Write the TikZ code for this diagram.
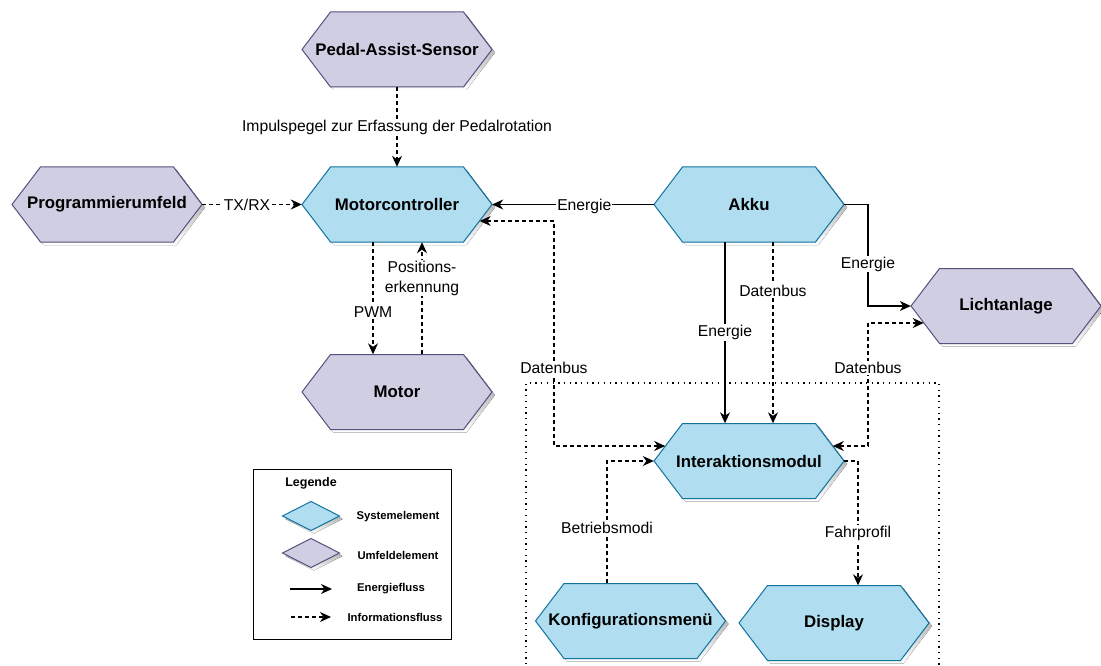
\documentclass[tikz,border=0pt]{standalone}
\usepackage{fontspec}
\setmainfont{Liberation Sans}
\usetikzlibrary{arrows.meta,calc}

\definecolor{sysfill}{HTML}{B1DDF0}
\definecolor{sysline}{HTML}{10739E}
\definecolor{envfill}{HTML}{D0CEE2}
\definecolor{envline}{HTML}{56517E}
\definecolor{shade}{HTML}{C2C2C2}

\tikzset{
  sys/.style={fill=sysfill, draw=sysline, line width=1pt, line join=miter},
  env/.style={fill=envfill, draw=envline, line width=1pt, line join=miter},
  hexlabel/.style={rectangle, minimum width=190pt, minimum height=75pt, inner sep=0pt,
    font=\fontsize{16.8}{20}\selectfont\bfseries},
  flow/.style={line width=1.1pt, -{Stealth[length=11pt, width=10pt, inset=3.5pt]}},
  info/.style={flow, dash pattern=on 4pt off 3pt},
  both/.style={info, {Stealth[length=11pt, width=10pt, inset=3.5pt]}-{Stealth[length=11pt, width=10pt, inset=3.5pt]}},
  lbl/.style={fill=white, inner sep=1pt, align=center, font=\fontsize{15.7}{20}\selectfont},
  groupframe/.style={line width=1.3pt, dash pattern=on 1.3pt off 4.4pt},
  legtext/.style={font=\fontsize{11.3}{13}\selectfont\bfseries},
}

% hexagonal element with drop shadow: style, name, x, y, text
\newcommand\hexnode[5]{%
  \begin{scope}[shift={(#3,#4)}]
    \fill[shade] (-92,3) -- (-63.5,-34.5) -- (69.5,-34.5) -- (98,3) -- (69.5,40.5) -- (-63.5,40.5) -- cycle;
    \draw[#1] (-95,0) -- (-66.5,-37.5) -- (66.5,-37.5) -- (95,0) -- (66.5,37.5) -- (-66.5,37.5) -- cycle;
    \node[hexlabel] (#2) at (0,0) {#5};
  \end{scope}
}
% small diamond with drop shadow for the legend: style, x, y
\newcommand\legdiamond[3]{%
  \begin{scope}[shift={(#2,#3)}]
    \fill[shade] (-25.5,3) -- (3,-11.5) -- (31.5,3) -- (3,17.5) -- cycle;
    \draw[#1] (-28.5,0) -- (0,-14.5) -- (28.5,0) -- (0,14.5) -- cycle;
  \end{scope}
}

\begin{document}
\begin{tikzpicture}[x=1pt, y=-1pt]
\useasboundingbox (0,0) rectangle (1101,666);

% dotted frame around the user-side components
\draw[groupframe] (526,670) -- (526,383) -- (939,383) -- (939,670);

% elements
\hexnode{env}{pas}{397}{49.5}{Pedal-Assist-Sensor}
\hexnode{env}{prog}{107}{204.5}{Programmierumfeld}
\hexnode{sys}{mc}{397}{204.5}{Motorcontroller}
\hexnode{env}{motor}{397}{392}{Motor}
\hexnode{sys}{akku}{749}{204.5}{Akku}
\hexnode{env}{licht}{1006}{306}{Lichtanlage}
\hexnode{sys}{im}{749}{461}{Interaktionsmodul}
\hexnode{sys}{konf}{630.5}{621}{Konfigurationsmenü}
\hexnode{sys}{disp}{834}{623}{Display}

% docking points on the slanted sides
\coordinate (mcIn)  at ($(mc.east)+(-12.5,16.5)$);
\coordinate (imInL) at ($(im.west)+(11.4,-15)$);
\coordinate (imInR) at ($(im.east)+(-11.4,-15)$);
\coordinate (liIn)  at ($(licht.west)+(12.9,17)$);

% connectors
\draw[info] (pas.south) -- node[lbl]{Impulspegel zur Erfassung der Pedalrotation} (mc.north);
\draw[info] (prog.east) -- node[lbl, pos=0.45]{TX/RX} (mc.west);
\draw[flow] (akku.west) -- node[lbl, pos=0.43, yshift=-1.5pt]{Energie} (mc.east);
\draw[both] (mcIn) -| (554,368) node[lbl]{Datenbus} |- (imInL);

\draw[info] ($(mc.south)+(-24,0)$) -- node[lbl, pos=0.62]{PWM} ($(motor.north)+(-24,0)$);
\draw[info] ($(motor.north)+(25,0)$) -- node[lbl, pos=0.68]{Positions-\\erkennung} ($(mc.south)+(25,0)$);

\draw[flow] (akku.east) -| (868,264) node[lbl]{Energie} |- (licht.west);
\draw[both] (imInR) -| (868,368) node[lbl]{Datenbus} |- (liIn);

\draw[flow] ($(akku.south)+(-24,0)$) -- node[lbl, pos=0.5]{Energie} ($(im.north)+(-24,0)$);
\draw[info] ($(akku.south)+(24,0)$) -- node[lbl, pos=0.27]{Datenbus} ($(im.north)+(24,0)$);

\draw[info] ($(konf.north)+(-23.5,0)$) -- ++(0,-55) node[lbl]{Betriebsmodi} |- (im.west);
\draw[info] (im.east) -| ($(disp.north)+(24,-51.5)$) node[lbl]{Fahrprofil} -- ($(disp.north)+(24,0)$);

% legend
\node[draw, line width=1.2pt, minimum width=198pt, minimum height=170pt, anchor=north west] (legend) at (253,469) {};
\node[font=\fontsize{12.5}{14}\selectfont\bfseries] (lgTitle) at (311,483) {Legende};
\legdiamond{sys}{311}{516}
\legdiamond{env}{311}{553}
\node[legtext] (lgSys) at (398,517) {Systemelement};
\node[legtext] (lgEnv) at (398,555) {Umfeldelement};
\coordinate (lgE1) at (290,589);
\coordinate (lgE2) at (332,589);
\coordinate (lgI1) at (291,617);
\coordinate (lgI2) at (331,617);
\draw[flow] (lgE1) -- (lgE2);
\draw[info] (lgI1) -- (lgI2);
\node[legtext] (lgEn) at (391,589) {Energiefluss};
\node[legtext] (lgIn) at (395,617) {Informationsfluss};
\end{tikzpicture}
\end{document}
